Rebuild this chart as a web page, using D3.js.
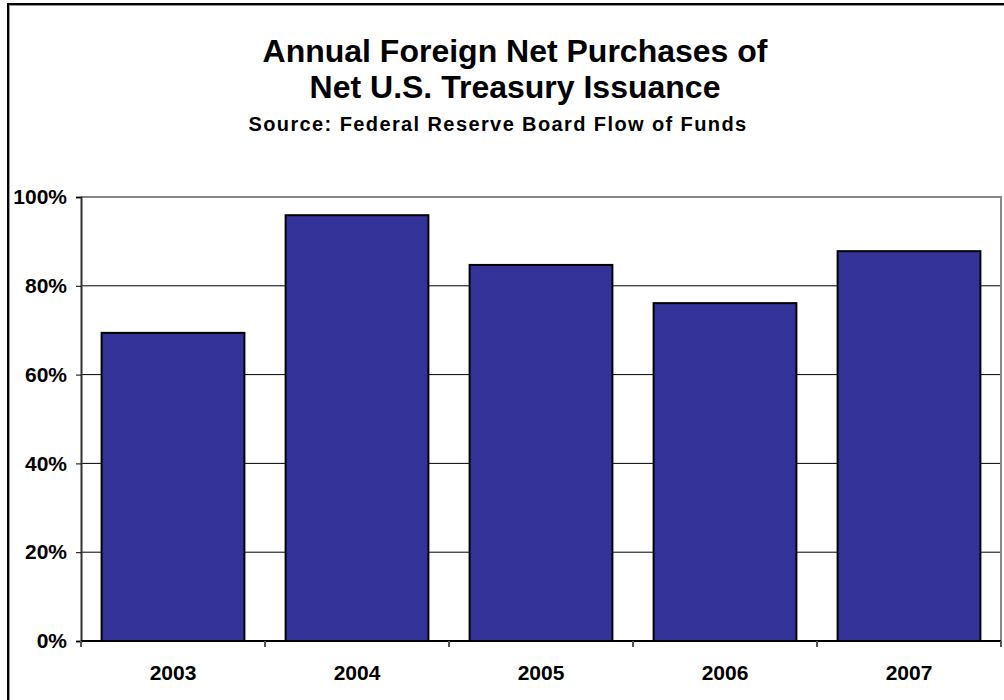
<!DOCTYPE html>
<html>
<head>
<meta charset="utf-8">
<script src="https://cdn.jsdelivr.net/npm/d3@7"></script>
<style>
  html, body { margin: 0; padding: 0; background: #fff; }
  svg { display: block; }
  text { font-family: "Liberation Sans", Arial, sans-serif; font-weight: bold; fill: #000; }
</style>
</head>
<body>
<svg id="chart" width="1004" height="700"></svg>
<script>
// Foreign net purchases as a share of net Treasury issuance
const years = ["2003", "2004", "2005", "2006", "2007"];
const shares = [69.4, 95.9, 84.7, 76.1, 87.8];
const yTicks = [0, 20, 40, 60, 80, 100];
const titleLines = ["Annual Foreign Net Purchases of", "Net U.S. Treasury Issuance"];
const subtitle = "Source: Federal Reserve Board Flow of Funds";

const svg = d3.select("#chart");

// chart frame
svg.append("rect")
  .attr("x", 9).attr("y", 5).attr("width", 1010).attr("height", 710)
  .attr("fill", "none").attr("stroke", "#999").attr("stroke-width", 2);
svg.append("rect")
  .attr("x", 8).attr("y", 4).attr("width", 1010).attr("height", 710)
  .attr("fill", "none").attr("stroke", "#000").attr("stroke-width", 2);

// titles
svg.selectAll("text.title")
  .data(titleLines)
  .join("text")
  .attr("class", "title")
  .attr("x", 515)
  .attr("y", (d, i) => 62 + i * 36)
  .attr("text-anchor", "middle")
  .style("font-size", "32px")
  .text(d => d);

svg.append("text")
  .attr("x", 498).attr("y", 131)
  .attr("text-anchor", "middle")
  .style("font-size", "20px")
  .style("letter-spacing", "1.4px")
  .text(subtitle);

const plot = { left: 81, right: 1001, top: 197, bottom: 641 };

const x = d3.scaleBand()
  .domain(years)
  .range([plot.left, plot.right])
  .paddingInner(0.224)
  .paddingOuter(0.112);

const y = d3.scaleLinear()
  .domain([0, 100])
  .range([plot.bottom, plot.top]);

// gridlines
svg.append("g")
  .selectAll("line")
  .data(yTicks.filter(t => t > 0 && t < 100))
  .join("line")
  .attr("x1", plot.left).attr("x2", plot.right)
  .attr("y1", d => y(d)).attr("y2", d => y(d))
  .attr("stroke", "#000").attr("stroke-width", 1);

// plot area border (top and right, grey)
svg.append("path")
  .attr("d", `M${plot.left},${y(100)}H${plot.right}V${plot.bottom}`)
  .attr("fill", "none").attr("stroke", "#888").attr("stroke-width", 2);

// bars
svg.append("g")
  .selectAll("rect")
  .data(years.map((yr, i) => ({ yr, v: shares[i] })))
  .join("rect")
  .attr("x", d => x(d.yr))
  .attr("y", d => y(d.v))
  .attr("width", x.bandwidth())
  .attr("height", d => y(0) - y(d.v))
  .attr("fill", "#333399")
  .attr("stroke", "#000")
  .attr("stroke-width", 2);

// y axis
const yAxis = d3.axisLeft(y)
  .tickValues(yTicks)
  .tickFormat(d => d + "%")
  .tickSize(5)
  .tickPadding(9);
const gy = svg.append("g")
  .attr("transform", `translate(${plot.left},0)`)
  .call(yAxis);
gy.select(".domain").attr("stroke", "#333").attr("stroke-width", 2);
gy.selectAll(".tick line").attr("stroke", "#000");
gy.selectAll(".tick text")
  .style("font-size", "21px")
  .style("font-family", "'Liberation Sans', Arial, sans-serif")
  .style("font-weight", "bold")
  .attr("fill", "#000");

// x axis: ticks sit on category boundaries
const gx = svg.append("g")
  .attr("transform", `translate(0,${plot.bottom})`);
gx.append("line")
  .attr("x1", plot.left).attr("x2", plot.right)
  .attr("stroke", "#000").attr("stroke-width", 2);
const boundaries = years.map(yr => x(yr) - x.step() * x.paddingOuter()).concat([plot.right]);
gx.selectAll("line.tick")
  .data(boundaries)
  .join("line")
  .attr("class", "tick")
  .attr("x1", d => d).attr("x2", d => d)
  .attr("y1", 0).attr("y2", 6)
  .attr("stroke", "#555").attr("stroke-width", 2);
gx.selectAll("text")
  .data(years)
  .join("text")
  .attr("x", d => x(d) + x.bandwidth() / 2)
  .attr("y", 39)
  .attr("text-anchor", "middle")
  .style("font-size", "21px")
  .text(d => d);
</script>
</body>
</html>
